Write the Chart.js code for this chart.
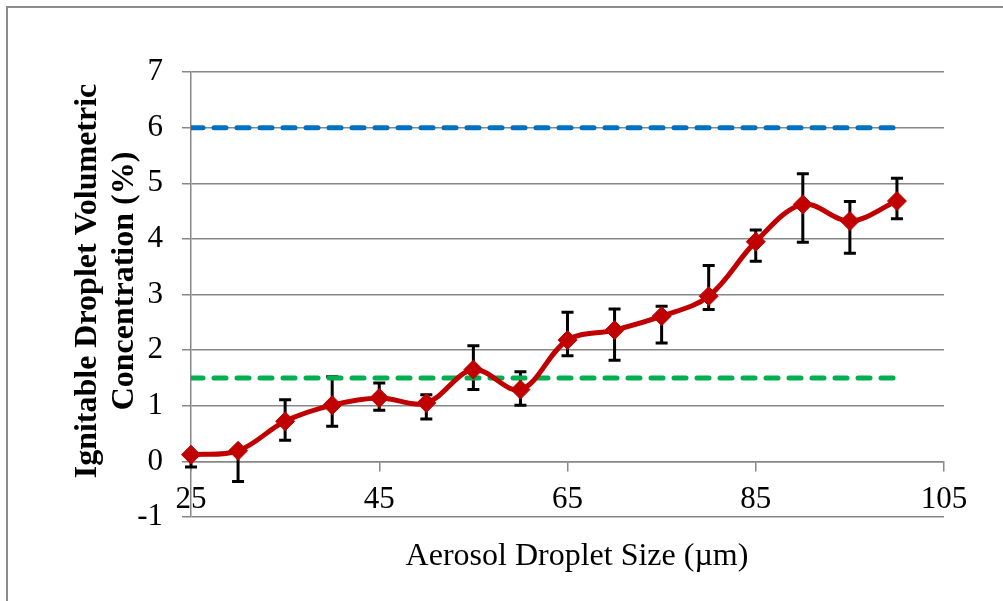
<!DOCTYPE html>
<html>
<head>
<meta charset="utf-8">
<script src="https://cdn.jsdelivr.net/npm/chart.js@4.4.0/dist/chart.umd.min.js"></script>
<style>
  html, body { margin: 0; padding: 0; background: #fff; overflow: hidden; }
  #wrap { position: relative; width: 1003px; height: 601px; }
  #frame { position: absolute; left: 6px; top: 6px; width: 1100px; height: 700px; border: 2px solid #8c8c8c; pointer-events: none; }
</style>
</head>
<body>
<div id="wrap">
  <canvas id="chart" width="1003" height="601"></canvas>
  <div id="frame"></div>
</div>
<script>
// droplet sizes (um) and measured concentration (%)
var dropletSize = [25, 30, 35, 40, 45, 50, 55, 60, 65, 70, 75, 80, 85, 90, 95, 100];
var concentration = [0.12, 0.19, 0.72, 1.01, 1.14, 1.05, 1.65, 1.29, 2.18, 2.36, 2.61, 2.97, 3.95, 4.62, 4.32, 4.68];
// asymmetric error bars
var errPlus = [0, 0, 0.39, 0.51, 0.27, 0.15, 0.43, 0.32, 0.50, 0.38, 0.18, 0.55, 0.21, 0.55, 0.35, 0.41];
var errMinus = [0.22, 0.55, 0.34, 0.38, 0.22, 0.29, 0.36, 0.28, 0.28, 0.54, 0.48, 0.24, 0.35, 0.68, 0.58, 0.32];
// reference levels
var upperLimit = 6;
var lowerLimit = 1.5;

var yTitle = ['Ignitable Droplet Volumetric', 'Concentration (%)'];
var xTitle = 'Aerosol Droplet Size (\u00b5m)';

function toPoints(xs, ys) {
  return xs.map(function (x, i) { return { x: x, y: ys[i] }; });
}

function levelLine(value) {
  return [
    { x: dropletSize[0], y: value },
    { x: dropletSize[dropletSize.length - 1], y: value }
  ];
}

// error bars, drawn under the series so the diamonds sit on top
var errorBars = {
  id: 'errorBars',
  beforeDatasetsDraw: function (chart) {
    var ctx = chart.ctx;
    var xs = chart.scales.x, ys = chart.scales.y;
    ctx.save();
    ctx.strokeStyle = '#000';
    ctx.lineWidth = 3;
    for (var i = 0; i < dropletSize.length; i++) {
      var px = xs.getPixelForValue(dropletSize[i]);
      var top = ys.getPixelForValue(concentration[i] + errPlus[i]);
      var bot = ys.getPixelForValue(concentration[i] - errMinus[i]);
      ctx.beginPath();
      ctx.moveTo(px, top);
      ctx.lineTo(px, bot);
      ctx.moveTo(px - 6, top);
      ctx.lineTo(px + 6, top);
      ctx.moveTo(px - 6, bot);
      ctx.lineTo(px + 6, bot);
      ctx.stroke();
    }
    ctx.restore();
  }
};

// axis titles (y title is two rotated lines)
var axisTitles = {
  id: 'axisTitles',
  afterDraw: function (chart) {
    var ctx = chart.ctx;
    ctx.save();
    ctx.fillStyle = '#000';
    ctx.textAlign = 'center';
    ctx.textBaseline = 'middle';
    ctx.font = '32px "Liberation Serif"';
    ctx.fillText(xTitle, 577, 557);
    ctx.font = 'bold 32px "Liberation Serif"';
    ctx.translate(88, 281);
    ctx.rotate(-Math.PI / 2);
    ctx.fillText(yTitle[0], 0, 0);
    ctx.fillText(yTitle[1], 0, 37);
    ctx.restore();
  }
};

var gridGrey = '#878787';

new Chart(document.getElementById('chart').getContext('2d'), {
  type: 'line',
  data: {
    datasets: [
      {
        label: 'Ignitable concentration',
        data: toPoints(dropletSize, concentration),
        borderColor: '#C00000',
        backgroundColor: '#C00000',
        borderWidth: 5,
        tension: 0.35,
        pointStyle: 'rectRot',
        pointRadius: 9.5,
        pointBorderWidth: 1,
        clip: false
      },
      {
        label: 'Lower limit',
        data: levelLine(lowerLimit),
        borderColor: '#00B050',
        borderWidth: 5,
        borderDash: [12, 11],
        borderCapStyle: 'round',
        pointRadius: 0
      },
      {
        label: 'Upper limit',
        data: levelLine(upperLimit),
        borderColor: '#0070C0',
        borderWidth: 5,
        borderDash: [12, 11],
        borderCapStyle: 'round',
        pointRadius: 0
      }
    ]
  },
  options: {
    responsive: false,
    animation: false,
    layout: { padding: { left: 0, right: 59, top: 72, bottom: 84 } },
    plugins: {
      legend: { display: false },
      tooltip: { enabled: false }
    },
    scales: {
      x: {
        type: 'linear',
        position: { y: 0 },
        min: 25,
        max: 105,
        ticks: {
          stepSize: 20,
          color: '#000',
          padding: 11,
          maxRotation: 0,
          font: { family: 'Liberation Serif', size: 31 }
        },
        grid: { drawOnChartArea: false, drawTicks: true, tickLength: 9, color: gridGrey, lineWidth: 1.5 },
        border: { display: true, color: gridGrey, width: 1.5 }
      },
      y: {
        min: -1,
        max: 7,
        ticks: {
          stepSize: 1,
          color: '#000',
          padding: 19,
          font: { family: 'Liberation Serif', size: 31 }
        },
        grid: { color: gridGrey, lineWidth: 1.5, tickLength: 9 },
        border: { display: true, color: gridGrey, width: 1.5 },
        afterFit: function (scale) { scale.width = 191; }
      }
    }
  },
  plugins: [errorBars, axisTitles]
});
</script>
</body>
</html>
